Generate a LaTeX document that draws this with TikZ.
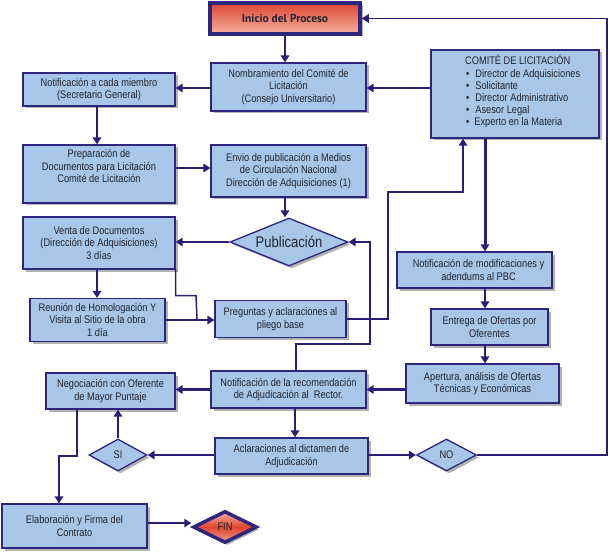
\documentclass[tikz,border=0pt]{standalone}
\usepackage{fontspec}
\setmainfont[FakeStretch=0.84]{Liberation Sans}
\newfontfamily\headfont{PT Sans}
\usetikzlibrary{shapes.geometric,arrows.meta,shadows}
\definecolor{boxfill}{RGB}{168,198,232}
\definecolor{boxline}{RGB}{46,38,124}
\definecolor{arrowc}{RGB}{44,30,120}
\definecolor{redtop}{RGB}{222,70,50}
\definecolor{redbot}{RGB}{246,176,158}
\definecolor{txt}{RGB}{35,35,45}
\tikzset{
  base/.style={draw=boxline, line width=1.3pt, fill=boxfill, align=center,
    font=\fontsize{11}{12.8}\selectfont, text=txt, inner sep=0pt,
    drop shadow={shadow xshift=2.5pt, shadow yshift=-2.5pt, fill=black, opacity=0.3}},
  box/.style={base, rectangle},
  dia/.style={base, diamond, aspect=2},
  arr/.style={draw=arrowc, line width=2.6pt, -{Triangle[length=7pt,width=8.5pt]}},
  thinarr/.style={draw=arrowc, line width=1.5pt, -{Triangle[length=7pt,width=8.5pt]}},
  thinline/.style={draw=arrowc, line width=1.5pt},
}
\begin{document}
\begin{tikzpicture}[x=1pt,y=-1pt]
\useasboundingbox (0,0) rectangle (610,556);

% nodes
\node[box, line width=3.5pt, top color=redtop, bottom color=redbot,
      minimum width=150pt, minimum height=31pt,
      font=\headfont\fontsize{11.5}{13}\selectfont\bfseries] (inicio) at (285,18.5) {Inicio del Proceso};
\node[box, minimum width=155pt, minimum height=48pt] (nomb) at (288.5,87)
  {Nombramiento del Comité de\\Licitación\\(Consejo Universitario)};
\node[box, minimum width=168pt, minimum height=88pt] (comite) at (515,94) {};
\node[anchor=north west, align=left, inner sep=0pt, text=txt,
      font=\fontsize{11}{12}\selectfont] (comitetxt) at (465,54.5)
  {COMITÉ DE LICITACIÓN\\[1.5pt]
   \hspace*{1pt}\textbullet\hspace{6pt}Director de Adquisiciones\\
   \hspace*{1pt}\textbullet\hspace{6pt}Solicitante\\
   \hspace*{1pt}\textbullet\hspace{6pt}Director Administrativo\\
   \hspace*{1pt}\textbullet\hspace{6pt}Asesor Legal\\
   \hspace*{1pt}\textbullet\hspace{5pt}Experto en la Materia};
\node[box, minimum width=152pt, minimum height=33pt] (notifm) at (99,89.5)
  {Notificación a cada miembro\\(Secretario General)};
\node[box, minimum width=152pt, minimum height=58pt] (prep) at (99,174)
  {Preparación de\\Documentos para Licitación\\Comité de Licitación\\[3pt]};
\node[box, minimum width=155pt, minimum height=52pt] (envio) at (288.5,171)
  {Envio de publicación a Medios\\de Circulación Nacional\\Dirección de Adquisiciones (1)};
\node[dia, aspect=2.5, minimum width=118pt, minimum height=48pt,
      font=\fontsize{15.5}{17}\selectfont] (pub) at (289,242) {Publicación};
\node[box, minimum width=152pt, minimum height=52pt] (venta) at (99,243)
  {Venta de Documentos\\(Dirección de Adquisiciones)\\3 días};
\node[box, minimum width=135pt, minimum height=43pt] (reunion) at (97.5,320)
  {Reunión de Homologación Y\\Visita al Sitio de la obra\\1 día};
\node[box, minimum width=131pt, minimum height=37pt] (preg) at (280.5,319)
  {Preguntas y aclaraciones al\\pliego base};
\node[box, minimum width=155pt, minimum height=36pt] (notifmod) at (474.5,270)
  {\hspace*{8pt}Notificación de modificaciones y\\\hspace*{8pt}adendums al PBC};
\node[box, minimum width=117pt, minimum height=36pt] (entrega) at (489.5,327)
  {Entrega de Ofertas por\\Oferentes};
\node[box, minimum width=153pt, minimum height=39pt] (apertura) at (482.5,383.5)
  {Apertura, análisis de Ofertas\\Técnicas y Económicas};
\node[box, minimum width=155pt, minimum height=37pt] (recom) at (288.5,389.5)
  {Notificación de la recomendación\\de Adjudicación al~ Rector.};
\node[box, minimum width=129pt, minimum height=36pt] (negoc) at (110.5,391)
  {Negociación con Oferente\\de Mayor Puntaje};
\node[box, minimum width=153pt, minimum height=36pt] (aclar) at (291.5,456)
  {Aclaraciones al dictamen de\\Adjudicación};
\node[dia, aspect=1.8, minimum width=58pt, minimum height=32pt] (si) at (118,455) {SI};
\node[dia, aspect=1.8, minimum width=60pt, minimum height=32pt] (no) at (446.5,455) {NO};
\node[box, minimum width=145pt, minimum height=44pt] (elab) at (74.5,526)
  {Elaboración y Firma del\\Contrato};
\node[dia, line width=3.5pt, top color=redbot, bottom color=redbot!80!redtop, middle color=redtop,
      minimum width=64pt, minimum height=32pt] (fin) at (225,527) {FIN};

\coordinate (colx) at (485,0);
\coordinate (join) at (197,320);
\coordinate (ya) at (0,88);
\coordinate (yb) at (0,168);
\coordinate (yc) at (0,523);
\coordinate (bendA) at (196,295.5);
\coordinate (bendB) at (388,192);
\coordinate (bendC) at (370,344);
\coordinate (bendD) at (59,456);

% connectors
\draw[arr] (inicio.south) -- (inicio.south |- nomb.north);
\draw[arr] (nomb.west |- ya) -- (notifm.east |- ya);
\draw[arr] (comite.west |- ya) -- (nomb.east |- ya);
\draw[arr] ([xshift=-2pt]notifm.south) -- ([xshift=-2pt]notifm.south |- prep.north);
\draw[arr] (prep.east |- yb) -- (envio.west |- yb);
\draw[arr] ([xshift=-3.5pt]envio.south) -- ([xshift=-3.5pt]envio.south |- pub.north);
\draw[arr] (pub.west) -- (pub.west -| venta.east);
\draw[arr] ([xshift=-2pt]venta.south) -- ([xshift=-2pt]venta.south |- reunion.north);
\draw[arr] (reunion.east |- join) -- (preg.west |- join);
\draw[thinline] (venta.south east) |- (bendA) -- (join);
\draw[thinarr] (preg.east) -| (bendB) -| ([xshift=-52pt]comite.south);
\draw[thinarr] ([xshift=7.5pt]recom.north) |- (bendC) |- (pub.east);
\draw[arr, line width=3pt] (comite.south -| colx) -- (notifmod.north -| colx);
\draw[arr] (notifmod.south -| colx) -- (entrega.north -| colx);
\draw[arr] (entrega.south -| colx) -- (apertura.north -| colx);
\draw[arr] (apertura.west |- recom.east) -- (recom.east);
\draw[arr] (recom.west) -- (recom.west -| negoc.east);
\draw[arr] ([xshift=6.5pt]recom.south) -- ([xshift=6.5pt]recom.south |- aclar.north);
\draw[arr] (aclar.west |- si.east) -- (si.east);
\draw[arr] (aclar.east |- no.west) -- (no.west);
\draw[thinarr] (no.east) -| ([xshift=245pt]inicio.east) -- (inicio.east);
\draw[arr] (si.north) -- (si.north |- negoc.south);
\draw[arr] ([xshift=-33.5pt]negoc.south) |- (bendD) -- (bendD |- elab.north);
\draw[thinarr] (elab.east |- yc) -- (fin.west |- yc);
\end{tikzpicture}
\end{document}
